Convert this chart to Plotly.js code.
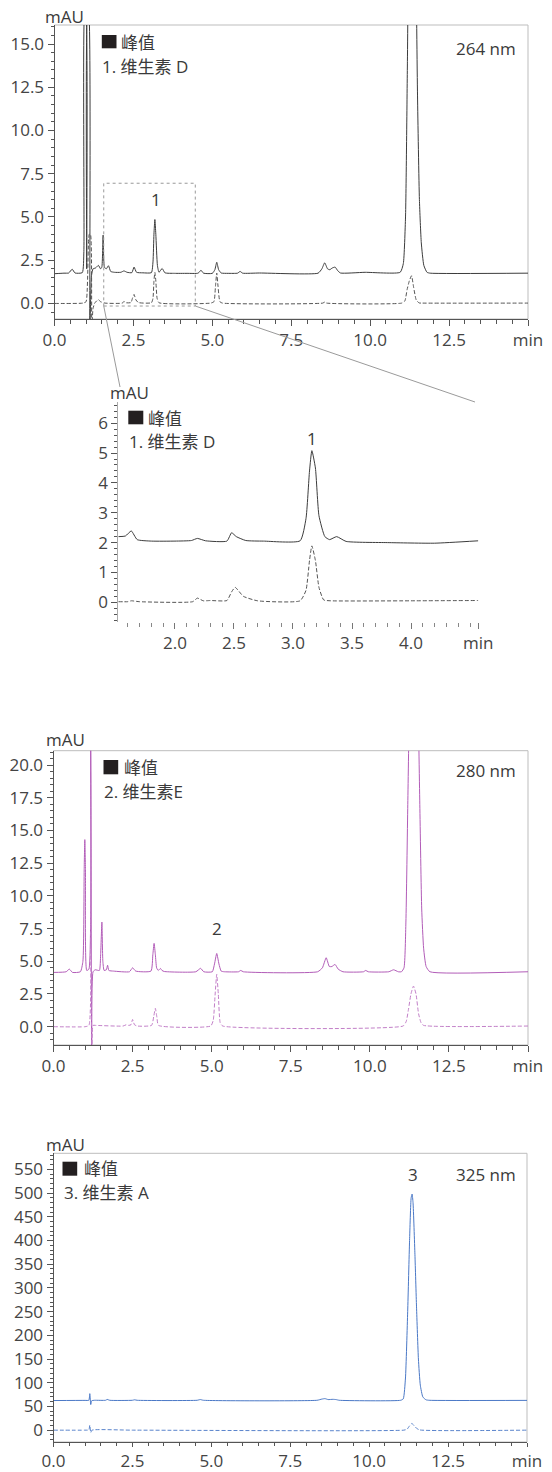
<!DOCTYPE html>
<html><head><meta charset="utf-8">
<script src="https://cdn.plot.ly/plotly-3.0.1.min.js"></script>
<style>html,body{margin:0;padding:0;background:#fff}</style>
</head><body><div id="chart" style="width:552px;height:1472px"></div>
<script>
// ---------- 264 nm (sample = solid, standard = dashed) ----------
const t264_sample = [0,0.3,0.45,0.56,0.65,0.88,0.93,0.96,0.99,1.02,1.05,1.08,1.12,1.17,1.22,1.3,1.39,1.46,1.5,1.54,1.58,1.64,1.71,1.78,1.9,2.1,2.2,2.3,2.45,2.52,2.6,2.8,3.07,3.12,3.15,3.18,3.21,3.26,3.31,3.41,3.5,3.8,4.2,4.55,4.64,4.72,5.0,5.08,5.14,5.2,5.28,5.5,5.8,5.88,5.96,6.5,8.35,8.47,8.56,8.65,8.72,8.8,8.89,8.97,9.06,9.84,10.95,11.05,11.12,11.18,11.22,11.33,11.45,11.5,11.56,11.62,11.7,11.8,11.9,15];
const y264_sample = [1.72,1.75,1.76,1.98,1.76,1.78,3.0,17,17,2.0,17,17,-1.5,1.6,2.0,2.05,2.2,2.0,2.1,3.95,2.1,2.0,2.18,1.85,1.8,1.8,1.88,1.8,1.78,2.1,1.8,1.77,1.78,2.4,4.0,4.85,4.0,2.2,1.8,2.02,1.77,1.74,1.74,1.75,1.92,1.75,1.74,1.95,2.38,1.95,1.76,1.74,1.75,1.85,1.75,1.76,1.75,2.0,2.35,2.0,1.95,2.05,2.1,1.9,1.76,1.8,1.8,2.3,5,14,22,35,20,12,6,3.5,2.2,1.8,1.75,1.75];
const t264_std = [0,0.9,1.0,1.1,1.14,1.18,1.22,1.28,1.33,1.39,1.46,1.6,2.15,2.2,2.26,2.42,2.47,2.52,2.58,2.66,3.07,3.12,3.15,3.18,3.21,3.25,3.31,4.95,5.05,5.1,5.14,5.18,5.24,5.32,8.5,8.56,8.62,11.0,11.1,11.17,11.24,11.31,11.38,11.46,11.55,11.65,15];
const y264_std = [0,0.02,0.1,4,4,-1.5,-0.3,0.05,0.12,0.22,0.1,0.02,0.02,0.12,0.04,0.05,0.3,0.52,0.2,0.05,0.04,0.3,1.3,1.8,1.3,0.3,0.04,0.02,0.1,1.0,1.76,1.0,0.1,0.02,0.02,0.08,0.02,0.02,0.15,0.8,1.3,1.6,0.9,0.2,0.03,0.02,0.02];

// ---------- 264 nm zoomed inset (1.5 – 4.6 min) ----------
const tZoom_sample = [1.52,1.58,1.63,1.68,1.8,2.0,2.14,2.19,2.26,2.44,2.48,2.52,2.6,2.75,3.06,3.11,3.14,3.16,3.19,3.22,3.27,3.31,3.37,3.45,3.8,4.2,4.57];
const yZoom_sample = [2.2,2.22,2.39,2.1,2.05,2.05,2.07,2.14,2.06,2.05,2.33,2.2,2.07,2.05,2.06,2.8,4.4,5.08,4.5,2.9,2.2,2.1,2.2,2.04,2.0,1.98,2.06];
const tZoom_std = [1.52,1.6,1.63,1.7,2.15,2.19,2.24,2.3,2.44,2.48,2.51,2.58,2.7,3.06,3.11,3.14,3.16,3.19,3.22,3.26,3.32,4.0,4.57];
const yZoom_std = [0.02,0.02,0.05,0.02,0.02,0.14,0.05,0.06,0.06,0.35,0.5,0.2,0.05,0.05,0.4,1.4,1.89,1.4,0.5,0.08,0.05,0.05,0.06];

// ---------- 280 nm ----------
const t280_sample = [0,0.4,0.5,0.6,0.85,0.93,0.97,0.99,1.01,1.05,1.12,1.17,1.21,1.25,1.32,1.45,1.49,1.53,1.56,1.6,1.67,1.71,1.75,1.9,2.4,2.5,2.6,3.08,3.14,3.18,3.22,3.26,3.31,3.38,3.43,3.5,4.5,4.65,4.75,5.02,5.09,5.16,5.23,5.3,5.4,5.85,5.92,6.0,8.35,8.5,8.62,8.72,8.8,8.9,9.0,9.15,9.8,9.87,9.95,10.6,10.75,10.9,11.0,11.08,11.14,11.2,11.25,11.38,11.52,11.58,11.64,11.7,11.78,11.9,15];
const y280_sample = [4.15,4.2,4.4,4.15,4.2,5,12,14.3,12,4.3,4.4,25,-3,4.2,4.35,4.3,5.5,8.0,5.0,4.3,4.35,4.7,4.3,4.25,4.2,4.5,4.25,4.25,5.5,6.37,5.5,4.5,4.3,4.45,4.3,4.22,4.2,4.46,4.2,4.2,4.8,5.6,4.8,4.25,4.2,4.2,4.3,4.2,4.2,4.5,5.27,4.6,4.6,4.76,4.4,4.2,4.2,4.3,4.2,4.2,4.35,4.2,4.2,4.5,8,17,25,45,26,17,9,6,4.6,4.2,4.2];
const t280_std = [0,1.0,1.12,1.17,1.21,1.25,1.32,2.2,2.3,2.38,2.45,2.5,2.56,2.65,3.1,3.17,3.22,3.27,3.32,4.97,5.05,5.11,5.16,5.21,5.27,5.35,11.05,11.15,11.22,11.3,11.38,11.46,11.54,11.62,11.7,15];
const y280_std = [0,0,0.1,14,-3,0.1,0.1,0.05,0.15,0.1,0.15,0.55,0.15,0.05,0.1,0.8,1.4,0.7,0.1,0.05,0.5,2.5,4.0,2.5,0.3,0.05,0.05,0.4,1.3,2.5,3.1,2.5,1.0,0.3,0.1,0.05];

// ---------- 325 nm ----------
const t325_sample = [0,1.0,1.12,1.15,1.18,1.21,1.3,1.65,1.7,1.78,2.5,2.57,2.65,4.55,4.65,4.75,8.35,8.5,8.6,8.7,8.85,8.95,9.05,11.0,11.08,11.15,11.22,11.28,11.33,11.36,11.39,11.45,11.5,11.56,11.62,11.7,11.8,11.9,15];
const y325_sample = [62.5,62.8,63,77,54,62,63,63,64.8,63,63,64,63,63,64.5,63,63,65.5,66.5,64.5,65,64.5,63,63,66,110,250,400,490,498,480,370,260,150,95,70,64,63,62.8];
const t325_std = [0,1.0,1.12,1.15,1.18,1.22,2.5,11.1,11.2,11.28,11.35,11.42,11.5,11.6,15];
const y325_std = [0,0,0.5,10.5,-5,0,0,0,2,9,14,10,4,0.5,0];

// ---------- text ----------
const peakHeader = '峰值';
const name264 = '1. 维生素 D';
const name280 = '2. 维生素E';
const name325 = '3. 维生素 A';
const wl264 = '264 nm', wl280 = '280 nm', wl325 = '325 nm';
const yUnit = 'mAU', xUnit = 'min';
const xTicks = [0,2.5,5,7.5,10,12.5];
const xTickText = ['0.0','2.5','5.0','7.5','10.0','12.5'];
const zoomTicks = [2.0,2.5,3.0,3.5,4.0];
const zoomTickText = ['2.0','2.5','3.0','3.5','4.0'];

// ---------- layout helpers ----------
const W=552,H=1472;
const px = x => x/W, py = y => 1-y/H;
const FONT = "'Open Sans', 'Noto Sans CJK SC', sans-serif";
const TXT = '#3a3a3a', AX='#555';
const FS = 17;

function tr(x,y,color,xa,ya,dash){
  return {type:'scatter',mode:'lines',x:x,y:y,xaxis:xa,yaxis:ya,
    line:{color:color,width:1,dash:dash||'solid',shape:'spline',smoothing:0.5},
    hoverinfo:'skip',showlegend:false};
}
const GREY='#3c3c3c', GREYD='#555555', PUR='#b25cb8', PURD='#c27fc8', BLU='#4a78c6', BLUD='#5a84cc';
const DASH='4px,2px';
const data = [
  tr(t264_sample,y264_sample,GREY,'x','y'),
  tr(t264_std,y264_std,GREYD,'x','y',DASH),
  tr(tZoom_sample,yZoom_sample,GREY,'x2','y2'),
  tr(tZoom_std,yZoom_std,GREYD,'x2','y2',DASH),
  tr(t280_sample,y280_sample,PUR,'x3','y3'),
  tr(t280_std,y280_std,PURD,'x3','y3',DASH),
  tr(t325_sample,y325_sample,BLU,'x4','y4'),
  tr(t325_std,y325_std,BLUD,'x4','y4',DASH)
];

function tf(){ return {family:FONT,size:FS,color:'#444'}; }
function xAx(dom,anchor,range,tv,tt,minorDt){
  return {domain:dom,anchor:anchor,range:range,showgrid:false,zeroline:false,
    showline:true,linecolor:AX,linewidth:1,ticks:'outside',ticklen:6,tickcolor:AX,
    tickmode:'array',tickvals:tv.concat([range[1]]),ticktext:tt.concat([xUnit]),
    tickfont:tf(),minor:{dtick:minorDt,tick0:0,ticks:'outside',ticklen:4,tickcolor:AX,showgrid:false},
    fixedrange:true};
}
function yAx(dom,anchor,range,dt,minorDt,fmt){
  return {domain:dom,anchor:anchor,range:range,showgrid:false,zeroline:false,
    showline:true,linecolor:AX,linewidth:1,ticks:'outside',ticklen:6,tickcolor:AX,
    tickmode:'linear',tick0:0,dtick:dt,tickformat:fmt,tickfont:tf(),
    minor:{dtick:minorDt,tick0:0,ticks:'outside',ticklen:3,tickcolor:AX,showgrid:false},
    fixedrange:true};
}

// panel pixel boxes
const P1 = {l:54.5,r:528,t:25,b:319};
const P2 = {l:118.3,r:478.3,t:401.7,b:621.7};
const P3 = {l:53.5,r:528,t:750.7,b:1045};
const P4 = {l:53.5,r:527,t:1153.3,b:1442};
const dx = p=>[px(p.l),px(p.r)], dy = p=>[py(p.b),py(p.t)];

const layout = {
  width:W,height:H,margin:{l:0,r:0,t:0,b:0},paper_bgcolor:'#fff',plot_bgcolor:'rgba(0,0,0,0)',
  font:{family:FONT,color:TXT,size:FS},showlegend:false,
  xaxis: xAx(dx(P1),'y',[0,15],xTicks,xTickText,0.5),
  yaxis: yAx(dy(P1),'x',[-0.9,16.1],2.5,0.5,'.1f'),
  xaxis2: Object.assign(xAx(dx(P2),'y2',[1.52,4.57],zoomTicks,zoomTickText,0.1),{showline:false,tickcolor:'#777',minor:{dtick:0.1,tick0:0,ticks:'outside',ticklen:4,tickcolor:'#888',showgrid:false}}),
  yaxis2: Object.assign(yAx(dy(P2),'x2',[-0.65,6.72],1,0.2,'d'),{linecolor:'#aaa'}),
  xaxis3: xAx(dx(P3),'y3',[0,15],xTicks,xTickText,0.5),
  yaxis3: yAx(dy(P3),'x3',[-1.4,21.1],2.5,0.5,'.1f'),
  xaxis4: Object.assign(xAx(dx(P4),'y4',[0,15],xTicks,xTickText,0.5),{ticklen:4}),
  yaxis4: yAx(dy(P4),'x4',[-25,584],50,10,'d'),
  shapes:[],annotations:[]
};
layout.xaxis4.minor.ticklen=3;

// frames
[['x','y'],['x3','y3'],['x4','y4']].forEach(([xa,ya])=>{
  layout.shapes.push({type:'rect',xref:xa+' domain',yref:ya+' domain',x0:0,x1:1,y0:0,y1:1,line:{color:'#bdbdbd',width:1},layer:'below'});
});
// zoom window on 264 nm panel
const zx0=1.56, zx1=4.46, zy0=-0.15, zy1=6.95;
layout.shapes.push({type:'rect',xref:'x',yref:'y',x0:zx0,x1:zx1,y0:zy0,y1:zy1,line:{color:'#999',width:1,dash:'dot'}});
const cx = v=>P1.l+v/15*(P1.r-P1.l), cy = v=>P1.b-(v+0.9)/17*(P1.b-P1.t);
layout.shapes.push({type:'line',xref:'paper',yref:'paper',x0:px(cx(zx0)),y0:py(cy(zy0)),x1:px(120),y1:py(387),line:{color:'#9a9a9a',width:1}});
layout.shapes.push({type:'line',xref:'paper',yref:'paper',x0:px(cx(zx1)),y0:py(cy(zy0)),x1:px(475),y1:py(402),line:{color:'#9a9a9a',width:1}});

function txt(x,y,text,xanchor){
  layout.annotations.push({xref:'paper',yref:'paper',x:px(x),y:py(y),text:text,showarrow:false,
    xanchor:xanchor||'left',yanchor:'middle',font:{family:FONT,size:FS,color:TXT}});
}
// legend-style header: black square + 峰值, then compound name
function header(sqL,sqT,sqR,sqB,textL,textY,nameL,nameY,name){
  layout.shapes.push({type:'rect',xref:'paper',yref:'paper',x0:px(sqL),x1:px(sqR),y0:py(sqB),y1:py(sqT),fillcolor:'#231f20',line:{width:0}});
  txt(textL,textY,peakHeader);
  txt(nameL,nameY,name);
}
function peakLabel(xa,ya,x,y,text){
  layout.annotations.push({xref:xa,yref:ya,x:x,y:y,text:text,showarrow:false,xanchor:'center',yanchor:'middle',font:{family:FONT,size:FS,color:TXT}});
}
// panel 1
txt(64,16.5,yUnit,'center');
header(101.8,35,116.5,48.3,119,42.5,100,66,name264);
txt(518,49,wl264,'right');
peakLabel('x','y',3.2,6.0,'1');
// inset
txt(129.7,393,yUnit,'center');
header(128.3,410.7,143.3,424.3,146,418,127,441.7,name264);
peakLabel('x2','y2',3.16,5.5,'1');
// panel 2
txt(65,739,yUnit,'center');
header(103.5,760,118.2,774.3,121.5,767.3,101.5,791,name280);
txt(517.5,770.7,wl280,'right');
peakLabel('x3','y3',5.17,7.5,'2');
// panel 3
txt(65,1144,yUnit,'center');
header(62.5,1161.7,77.2,1175.7,81.5,1168.3,61.5,1192.3,name325);
txt(517.5,1174,wl325,'right');
peakLabel('x4','y4',11.4,540,'3');

Plotly.newPlot('chart',data,layout,{staticPlot:true,displayModeBar:false});
</script></body></html>
